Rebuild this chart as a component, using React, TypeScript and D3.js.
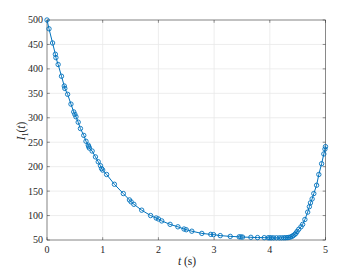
import React from "react";
import * as d3 from "d3";

const times = [0, 0.036, 0.10, 0.15, 0.16, 0.20, 0.26, 0.31, 0.32, 0.37, 0.43, 0.48, 0.50, 0.52, 0.56, 0.60, 0.66, 0.70, 0.74, 0.75, 0.76, 0.81, 0.87, 0.92, 0.96, 0.98, 1.00, 1.07, 1.21, 1.37, 1.48, 1.51, 1.56, 1.70, 1.86, 1.96, 2.00, 2.06, 2.21, 2.35, 2.46, 2.50, 2.60, 2.78, 2.94, 2.99, 3.11, 3.29, 3.45, 3.48, 3.51, 3.66, 3.78, 3.90, 3.97, 4.00, 4.03, 4.07, 4.12, 4.17, 4.21, 4.25, 4.28, 4.31, 4.34, 4.37, 4.40, 4.42, 4.45, 4.47, 4.49, 4.52, 4.56, 4.59, 4.63, 4.68, 4.71, 4.73, 4.76, 4.79, 4.84, 4.88, 4.93, 4.97, 4.99, 5.00];
const values = [500, 482, 453, 430, 423, 409, 385, 365, 360, 348, 328, 312, 307, 302, 291, 278, 264, 252, 244, 241, 238, 232, 220, 210, 202, 196, 193, 184, 164, 145, 132, 128, 123, 111, 100, 95, 93, 89, 82, 77, 72.5, 71, 68, 63.5, 61.5, 61, 59, 57.4, 56.5, 56.3, 56, 55.5, 55, 54.8, 54.6, 54.5, 54.5, 54.4, 54.4, 54.4, 54.4, 54.5, 54.6, 54.8, 55.2, 56, 57.5, 59, 61.5, 64, 67.5, 72, 77, 82, 92, 107, 118, 126, 134, 145, 162, 184, 206, 226, 236, 241];
const xTicks = [0, 1, 2, 3, 4, 5];
const yTicks = [50, 100, 150, 200, 250, 300, 350, 400, 450, 500];

export default function App() {
  const W = 360, H = 270;
  const x = d3.scaleLinear().domain([0, 5]).range([47, 325.5]);
  const y = d3.scaleLinear().domain([50, 500]).range([240, 20]);
  const pts: [number, number][] = times.map((t, i) => [t, values[i]]);
  const line = d3.line<[number, number]>().x(d => x(d[0])).y(d => y(d[1]));
  const blue = "#0072BD";
  const axis = "#262626";
  const font = "Liberation Serif, Times New Roman, serif";
  return (
    <svg width={W} height={H} style={{ position: "absolute", left: 0, top: 0, background: "#fff" }}>
      <rect x={0} y={0} width={W} height={H} fill="#fff" />
      {xTicks.map(t => (
        <line key={"gx" + t} x1={x(t)} x2={x(t)} y1={y(50)} y2={y(500)} stroke="#e8e8e8" strokeWidth={0.8} />
      ))}
      {yTicks.map(v => (
        <line key={"gy" + v} x1={x(0)} x2={x(5)} y1={y(v)} y2={y(v)} stroke="#e8e8e8" strokeWidth={0.8} />
      ))}
      <rect x={x(0)} y={y(500)} width={x(5) - x(0)} height={y(50) - y(500)} fill="none" stroke={axis} strokeWidth={0.5} />
      {xTicks.map(t => (
        <g key={"tx" + t}>
          <line x1={x(t)} x2={x(t)} y1={y(50)} y2={y(50) - 2.8} stroke={axis} strokeWidth={0.5} />
          <line x1={x(t)} x2={x(t)} y1={y(500)} y2={y(500) + 2.8} stroke={axis} strokeWidth={0.5} />
          <text x={x(t)} y={253} textAnchor="middle" style={{ fontFamily: font }} fontSize={10} fill="#262626">{t}</text>
        </g>
      ))}
      {yTicks.map(v => (
        <g key={"ty" + v}>
          <line x1={x(0)} x2={x(0) + 2.8} y1={y(v)} y2={y(v)} stroke={axis} strokeWidth={0.5} />
          <line x1={x(5)} x2={x(5) - 2.8} y1={y(v)} y2={y(v)} stroke={axis} strokeWidth={0.5} />
          <text x={43} y={y(v) + 3.4} textAnchor="end" style={{ fontFamily: font }} fontSize={10} fill="#262626">{v}</text>
        </g>
      ))}
      <path d={line(pts) || ""} fill="none" stroke={blue} strokeWidth={1} />
      {pts.map((p, i) => (
        <circle key={i} cx={x(p[0])} cy={y(p[1])} r={2.2} fill="none" stroke={blue} strokeWidth={0.9} />
      ))}
      <text x={187} y={265} textAnchor="middle" style={{ fontFamily: font }} fontSize={11.5} fill="#262626">
        <tspan fontStyle="italic">t</tspan> (s)
      </text>
      <text transform="translate(25,131) rotate(-90)" textAnchor="middle" style={{ fontFamily: font }} fontSize={11.5} fill="#262626">
        <tspan fontStyle="italic">I</tspan><tspan fontSize={8} dy={2.5}>1</tspan><tspan dy={-2.5}>(</tspan><tspan fontStyle="italic">t</tspan>)
      </text>
    </svg>
  );
}
